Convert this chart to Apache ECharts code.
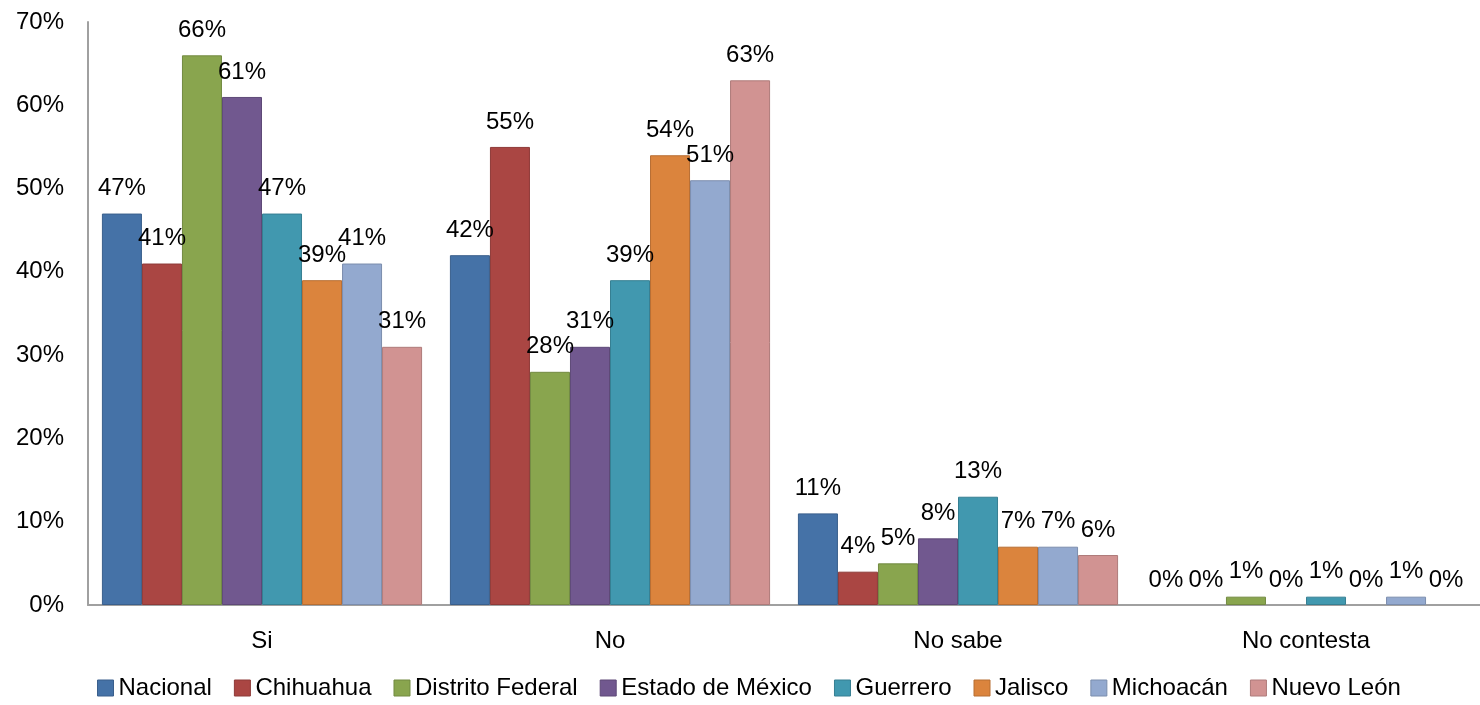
<!DOCTYPE html>
<html>
<head>
<meta charset="utf-8">
<script src="https://cdn.jsdelivr.net/npm/echarts@6/dist/echarts.min.js"></script>
<style>html,body{margin:0;padding:0;background:#fff;}#c{width:1480px;height:705px;}</style>
</head>
<body>
<div id="c"></div>
<script>
const categories = ['Si', 'No', 'No sabe', 'No contesta'];
const seriesNames = ['Nacional', 'Chihuahua', 'Distrito Federal', 'Estado de México', 'Guerrero', 'Jalisco', 'Michoacán', 'Nuevo León'];
const nacional = [47, 42, 11, 0];
const chihuahua = [41, 55, 4, 0];
const distritoFederal = [66, 28, 5, 1];
const estadoMexico = [61, 31, 8, 0];
const guerrero = [47, 39, 13, 1];
const jalisco = [39, 54, 7, 0];
const michoacan = [41, 51, 7, 1];
const nuevoLeon = [31, 63, 6, 0];
const yTicks = [0, 10, 20, 30, 40, 50, 60, 70];

const allValues = [nacional, chihuahua, distritoFederal, estadoMexico, guerrero, jalisco, michoacan, nuevoLeon];
const colors = ['#4572A7', '#AA4643', '#89A54E', '#71588F', '#4198AF', '#DB843D', '#93A9CF', '#D19392'];
const borders = ['#3A5F8C', '#8E3A38', '#728A41', '#5E4977', '#367F92', '#B76E33', '#7B8DAD', '#AE7B7A'];
const font = 'Liberation Sans, Arial, sans-serif';

const chart = echarts.init(document.getElementById('c'), null, {renderer: 'canvas'});
chart.setOption({
  animation: false,
  backgroundColor: '#fff',
  grid: {left: 88, right: 0, top: 22, bottom: 100, containLabel: false},
  legend: {
    bottom: 0, left: 92,
    itemWidth: 16, itemHeight: 16, itemGap: 22,
    textStyle: {fontFamily: font, fontSize: 24, color: '#000'},
    data: seriesNames.map((n, i) => ({name: n, icon: 'rect', itemStyle: {borderColor: borders[i], borderWidth: 1}}))
  },
  xAxis: {
    type: 'category', data: categories,
    axisLine: {lineStyle: {color: '#A0A0A0', width: 2}},
    axisTick: {show: false},
    axisLabel: {fontFamily: font, fontSize: 24, color: '#000', margin: 24}
  },
  yAxis: {
    type: 'value', min: yTicks[0], max: yTicks[yTicks.length - 1], interval: 10,
    axisLine: {show: true, lineStyle: {color: '#A0A0A0', width: 2}},
    axisTick: {show: false},
    splitLine: {show: false},
    axisLabel: {fontFamily: font, fontSize: 24, color: '#000', margin: 24, formatter: v => v + '%'}
  },
  series: seriesNames.map((n, i) => ({
    name: n, type: 'bar',
    data: allValues[i].map(v => v === 0 ? {value: v, itemStyle: {borderWidth: 0}} : v),
    barGap: '0%', barCategoryGap: '8%',
    itemStyle: {color: colors[i], borderColor: borders[i], borderWidth: 1},
    label: {show: true, position: 'top', distance: 13, fontFamily: font, fontSize: 24, color: '#000', formatter: p => p.value + '%'}
  }))
});
</script>
</body>
</html>
